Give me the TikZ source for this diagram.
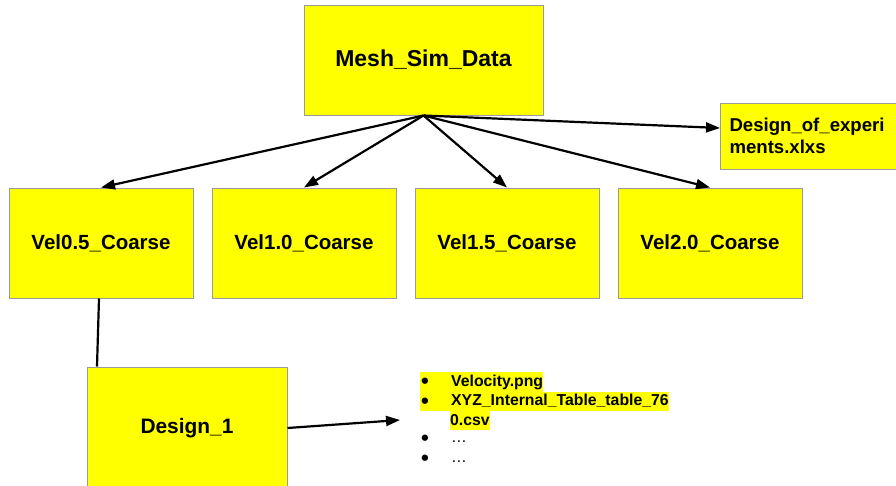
\documentclass[tikz,border=0pt]{standalone}
\usepackage{fontspec}
\setmainfont{Liberation Sans}
\usetikzlibrary{positioning,arrows.meta}
\definecolor{boxfill}{HTML}{FFFF00}
\definecolor{boxline}{HTML}{9A9A9A}
\newcommand{\blt}{\makebox[31pt][l]{\hspace{1pt}\raisebox{-2.5pt}{\scalebox{1.4}{•}}}}

\begin{document}
\begin{tikzpicture}[x=1pt, y=-1pt,
  font=\bfseries,
  box/.style={draw=boxline, line width=1pt, fill=boxfill, align=center, inner sep=2pt},
  folder/.style={box, minimum width=184pt, minimum height=110pt, font=\fontsize{20.5}{24}\selectfont\bfseries},
  item/.style={anchor=west, inner sep=0pt, minimum height=19.5pt, font=\fontsize{15.8}{19.5}\selectfont\bfseries},
  hl/.style={item, fill=boxfill},
  arr/.style={-{Triangle[length=14pt, width=10pt]}, draw=black, line width=2.2pt},
  link/.style={draw=black, line width=2.2pt}]
\useasboundingbox (0,0) rectangle (896,485);
\node[box, minimum width=239pt, minimum height=110pt, font=\fontsize{23}{27}\selectfont\bfseries] (mesh) at (423.5,60) {Mesh\_Sim\_Data};
\node[box, anchor=west, minimum width=185pt, minimum height=66pt, text width=167pt, inner xsep=9pt, align=left,
  font=\fontsize{18.6}{22}\selectfont\bfseries] (doe) at (720,136) {Design\_of\_experi\\ments.xlxs};
\node[folder] (vel05) at (101,243) {Vel0.5\_Coarse};
\node[folder, right=18pt of vel05] (vel10) {Vel1.0\_Coarse};
\node[folder, right=18pt of vel10] (vel15) {Vel1.5\_Coarse};
\node[folder, right=18pt of vel15] (vel20) {Vel2.0\_Coarse};
\node[box, minimum width=200pt, minimum height=122pt, font=\fontsize{20.9}{24}\selectfont\bfseries] (design1) at (187,428) {Design\_1};
% file list of Design_1
\node[hl] (file1) at (420,382) {\blt Velocity.png};
\node[hl] (file2) at (420,401.5) {\blt XYZ\_Internal\_Table\_table\_76};
\node[hl] (file2b) at (450,420.5) {0.csv};
\node[item] (more1) at (420,440) {\blt\mdseries …};
\node[item] (more2) at (420,460) {\blt\mdseries …};
\coordinate (lst) at (400,420);
\draw[arr] (mesh.south) -- (vel05.north);
\draw[arr] (mesh.south) -- (vel10.north);
\draw[arr] (mesh.south) -- (vel15.north);
\draw[arr] (mesh.south) -- (vel20.north);
\draw[arr] (mesh.south) -- ([yshift=8pt]doe.west);
\draw[link] ([xshift=-2pt]vel05.south) -- ([xshift=-90pt]design1.north);
\draw[arr] (design1.east) -- (lst);
\end{tikzpicture}
\end{document}
